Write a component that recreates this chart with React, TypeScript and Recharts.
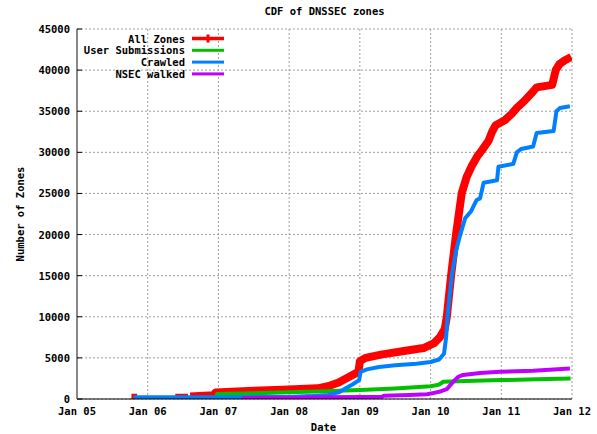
import React from 'react';
import { LineChart, Line, XAxis, YAxis, CartesianGrid, Legend } from 'recharts';

// ---------- data ----------
const YEAR_TICKS = [2005, 2006, 2007, 2008, 2009, 2010, 2011, 2012];
const YEAR_LABELS = ['Jan 05', 'Jan 06', 'Jan 07', 'Jan 08', 'Jan 09', 'Jan 10', 'Jan 11', 'Jan 12'];
const QUARTER_TICKS = [
  2005, 2005.25, 2005.5, 2005.75, 2006, 2006.25, 2006.5, 2006.75, 2007, 2007.25, 2007.5, 2007.75,
  2008, 2008.25, 2008.5, 2008.75, 2009, 2009.25, 2009.5, 2009.75, 2010, 2010.25, 2010.5, 2010.75,
  2011, 2011.25, 2011.5, 2011.75, 2012,
];
const Y_TICKS = [0, 5000, 10000, 15000, 20000, 25000, 30000, 35000, 40000, 45000];

const TITLE = 'CDF of DNSSEC zones';
const SERIES_NAMES = ['All Zones', 'User Submissions', 'Crawled', 'NSEC walked'];
const SERIES_COLORS = ['#ff0000', '#00c000', '#0080ff', '#c000ff'];

const allZones: [number, number | null][] = [
  [2005.77, 150], [2005.85, 150], [2005.86, null],
  [2006.39, 150], [2006.57, 150], [2006.58, null],
  [2006.6, 300], [2006.93, 450], [2006.96, 800], [2007.5, 1000], [2008.0, 1150], [2008.4, 1300],
  [2008.55, 1550], [2008.7, 2000], [2008.85, 2700], [2008.98, 3300], [2009.0, 4600], [2009.08, 5000],
  [2009.3, 5400], [2009.6, 5800], [2009.9, 6200], [2010.05, 6800], [2010.13, 7500], [2010.2, 8500],
  [2010.23, 10000], [2010.29, 15000], [2010.36, 20000], [2010.44, 25000], [2010.51, 27000],
  [2010.58, 28300], [2010.66, 29500], [2010.73, 30300], [2010.82, 31400], [2010.87, 32500],
  [2010.92, 33300], [2011.05, 33900], [2011.15, 34700], [2011.22, 35400], [2011.32, 36200],
  [2011.45, 37400], [2011.5, 37900], [2011.72, 38200], [2011.77, 40000], [2011.82, 40700],
  [2011.9, 41200], [2011.99, 41600],
];

const userSubmissions: [number, number | null][] = [
  [2005.8, 60], [2006.97, 80], [2006.98, 600], [2007.5, 700], [2008.0, 820], [2008.5, 950],
  [2009.0, 1100], [2009.5, 1280], [2010.0, 1550], [2010.12, 1750], [2010.18, 2100], [2010.5, 2200],
  [2011.0, 2300], [2011.5, 2400], [2011.98, 2480],
];

const crawled: [number, number | null][] = [
  [2005.8, 200], [2007.0, 220], [2008.0, 250], [2008.3, 350], [2008.55, 500], [2008.7, 800],
  [2008.8, 1300], [2008.9, 1800], [2008.99, 2300], [2009.01, 3300], [2009.1, 3600], [2009.27, 3900],
  [2009.5, 4100], [2009.8, 4300], [2010.0, 4500], [2010.12, 4800], [2010.19, 5500], [2010.22, 7500],
  [2010.24, 10000], [2010.3, 15000], [2010.36, 18000], [2010.42, 20000], [2010.49, 22000],
  [2010.57, 22800], [2010.65, 24200], [2010.7, 24400], [2010.75, 26300], [2010.94, 26600],
  [2010.96, 28250], [2011.17, 28600], [2011.22, 30000], [2011.28, 30400], [2011.45, 30700],
  [2011.5, 32350], [2011.74, 32600], [2011.78, 35000], [2011.83, 35400], [2011.97, 35600],
];

const nsecWalked: [number, number | null][] = [
  [2007.33, 120], [2008.0, 160], [2008.5, 200], [2009.0, 240], [2009.32, 280], [2009.34, 400],
  [2009.7, 480], [2009.95, 570], [2010.05, 750], [2010.15, 950], [2010.23, 1200], [2010.32, 2100],
  [2010.39, 2700], [2010.46, 2920], [2010.7, 3150], [2010.98, 3320], [2011.45, 3450], [2011.97, 3700],
];

const toPts = (arr: [number, number | null][]) => arr.map(([t, v]) => ({ t, v }));

// ---------- layout constants ----------
const W = 597;
const H = 434;
const PLOT_L = 77;
const PLOT_R = 572;
const PLOT_T = 29;
const PLOT_B = 399;
const FONT = '"DejaVu Sans Mono", "Liberation Mono", monospace';
const FS = 10.5;
const textStyle = { fontFamily: FONT, fontSize: FS, fontWeight: 700, fill: '#000' } as const;

const XTick = (props: any) => {
  const { x, y, payload } = props;
  const i = YEAR_TICKS.indexOf(payload.value);
  return (
    <text x={x} y={y + 16} textAnchor="middle" style={textStyle}>
      {i >= 0 ? YEAR_LABELS[i] : ''}
    </text>
  );
};

const QTick = (props: any) => {
  const { x, y, payload } = props;
  const major = Number.isInteger(payload.value);
  const len = major ? 5 : 3;
  return (
    <g>
      <line x1={x} x2={x} y1={y} y2={y + len} stroke="#000" strokeWidth={1} />
      <line x1={x} x2={x} y1={y + (PLOT_B - PLOT_T)} y2={y + (PLOT_B - PLOT_T) - len} stroke="#000" strokeWidth={1} />
    </g>
  );
};

const YTick = (props: any) => {
  const { x, y, payload } = props;
  return (
    <g>
      <line x1={x} x2={x + 5} y1={y} y2={y} stroke="#000" strokeWidth={1} />
      <text x={x - 7} y={y + 4} textAnchor="end" style={textStyle}>
        {payload.value}
      </text>
    </g>
  );
};

const RTick = (props: any) => {
  const { x, y } = props;
  return <line x1={x} x2={x - 5} y1={y} y2={y} stroke="#000" strokeWidth={1} />;
};

const renderXLabel = () => (
  <text x={(PLOT_L + PLOT_R) / 2 - 1} y={431} textAnchor="middle" style={textStyle}>
    Date
  </text>
);

const renderYLabel = () => (
  <text
    x={24}
    y={(PLOT_T + PLOT_B) / 2}
    textAnchor="middle"
    transform={`rotate(-90 24 ${(PLOT_T + PLOT_B) / 2})`}
    style={textStyle}
  >
    Number of Zones
  </text>
);

const renderLegend = () => (
  <svg width={W} height={90} style={{ display: 'block' }}>
    <text x={(PLOT_L + PLOT_R) / 2} y={15} textAnchor="middle" style={textStyle}>
      {TITLE}
    </text>
    {SERIES_NAMES.map((name, i) => {
      const cy = 38.5 + i * 11.8;
      return (
        <g key={name}>
          <text x={185} y={cy + 4} textAnchor="end" style={textStyle}>
            {name}
          </text>
          <line x1={192} x2={224} y1={cy} y2={cy} stroke={SERIES_COLORS[i]} strokeWidth={i === 0 ? 3.5 : 3} />
          {i === 0 && <line x1={208} x2={208} y1={cy - 4} y2={cy + 4} stroke={SERIES_COLORS[0]} strokeWidth={3} />}
        </g>
      );
    })}
  </svg>
);

const SERIES = [allZones, userSubmissions, crawled, nsecWalked];
const WIDTHS = [8, 4, 4, 4];

export default function App() {
  return (
    <div style={{ position: 'absolute', left: 0, top: 0, width: W, height: H, background: '#fff' }}>
      <LineChart width={W} height={H} margin={{ top: PLOT_T, right: W - PLOT_R, bottom: 0, left: 0 }}>
        <CartesianGrid stroke="#a0a0a0" strokeDasharray="2 2" />
        <XAxis
          dataKey="t"
          type="number"
          domain={[2005, 2012]}
          ticks={YEAR_TICKS}
          interval={0}
          height={H - PLOT_B}
          tickSize={0}
          tickMargin={0}
          tickLine={false}
          axisLine={{ stroke: '#000', strokeWidth: 1 }}
          tick={<XTick />}
          label={renderXLabel}
          allowDataOverflow
        />
        <XAxis
          xAxisId="top"
          orientation="top"
          dataKey="t"
          type="number"
          domain={[2005, 2012]}
          ticks={QUARTER_TICKS}
          interval={0}
          height={0}
          tickSize={0}
          tickMargin={0}
          tickLine={false}
          axisLine={{ stroke: '#000', strokeWidth: 1 }}
          tick={<QTick />}
          allowDataOverflow
        />
        <YAxis
          type="number"
          domain={[0, 45000]}
          ticks={Y_TICKS}
          interval={0}
          width={PLOT_L}
          tickSize={0}
          tickMargin={0}
          tickLine={false}
          axisLine={{ stroke: '#888', strokeWidth: 2 }}
          tick={<YTick />}
          label={renderYLabel}
          allowDataOverflow
        />
        <YAxis
          yAxisId="right"
          orientation="right"
          type="number"
          domain={[0, 45000]}
          ticks={Y_TICKS}
          interval={0}
          width={0}
          tickSize={0}
          tickMargin={0}
          tickLine={false}
          axisLine={{ stroke: '#888', strokeWidth: 2 }}
          tick={<RTick />}
          allowDataOverflow
        />
        <Legend
          layout="horizontal"
          verticalAlign="middle"
          align="center"
          content={renderLegend}
          wrapperStyle={{ position: 'absolute', left: 0, top: 0, width: W, height: 90, pointerEvents: 'none' }}
        />
        {SERIES.map((s, i) => (
          <Line
            key={SERIES_NAMES[i]}
            data={toPts(s)}
            dataKey="v"
            name={SERIES_NAMES[i]}
            type="linear"
            stroke={SERIES_COLORS[i]}
            strokeWidth={WIDTHS[i]}
            strokeLinejoin="round"
            dot={false}
            activeDot={false}
            connectNulls={false}
            isAnimationActive={false}
          />
        ))}
      </LineChart>
    </div>
  );
}
